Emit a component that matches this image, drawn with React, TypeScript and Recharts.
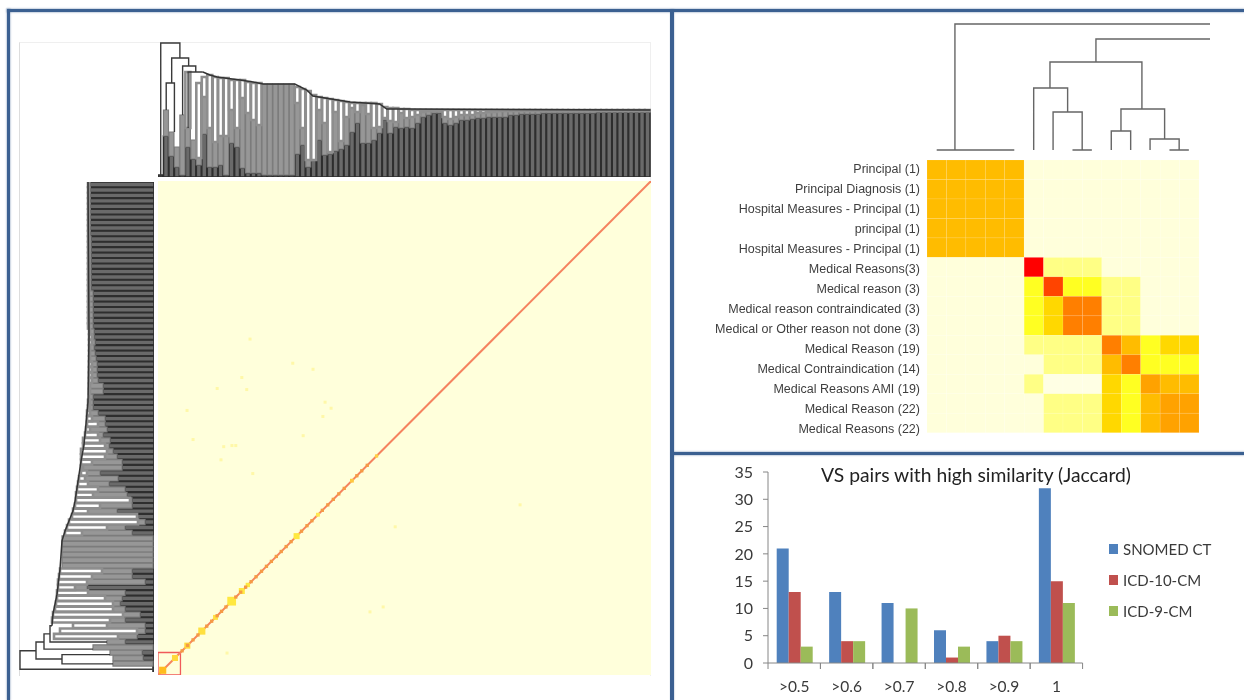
import React from "react";
import {
  BarChart, Bar, XAxis, YAxis, ComposedChart, Line, Scatter, ScatterChart,
  ReferenceArea, Legend,
} from "recharts";

/* ---------- similarity bar panel ---------- */
const thresholds = [">0.5", ">0.6", ">0.7", ">0.8", ">0.9", "1"];
const snomedCt = [21, 13, 11, 6, 4, 32];
const icd10 = [13, 4, 0, 1, 5, 15];
const icd9 = [3, 4, 10, 3, 4, 11];
const yTicks = [0, 5, 10, 15, 20, 25, 30, 35];

/* ---------- zoomed heat map ---------- */
const rowLabels = [
  "Principal (1)", "Principal Diagnosis (1)", "Hospital Measures - Principal (1)", "principal (1)",
  "Hospital Measures - Principal (1)", "Medical Reasons(3)", "Medical reason (3)",
  "Medical reason contraindicated (3)", "Medical or Other reason not done (3)", "Medical Reason (19)",
  "Medical Contraindication (14)", "Medical Reasons AMI (19)", "Medical Reason (22)", "Medical Reasons (22)",
];
const heatLevels: Record<string, string> = {
  a: "#FFFFDB", p: "#FFFFE4", b: "#FFFF85", c: "#FFFF22", d: "#FFD800", e: "#FFBC00",
  q: "#FFA200", f: "#FF7F00", g: "#FF4400", h: "#FF0000",
};
const heatRows = [
  "eeeeeaaaaaaaaa", "eeeeeaaaaaaaaa", "eeeeeaaaaaaaaa", "eeeeeaaaaaaaaa", "eeeeeaaaaaaaaa",
  "aaaaahbbbaaaaa", "aaaaacgccbbaaa", "aaaaacdffbbaaa", "aaaaacdffbbaaa",
  "aaaaabbbbfecdd", "aaaaaabbbefccc", "aaaaabpppdcqee", "aaaaaabbbdceqq", "aaaaaabbbdceqq",
];
const zoomMergeLeft = [0.94, 8.21, 5.84, 5, 6, 7, 9.5, 9, 11, 12, 0];
const zoomMergeRight = [14.09, 14.09, 10.58, 6.75, 7.5, 8, 11.75, 10, 12.5, 13, 4];
const zoomMergeHeight = [126, 111, 88, 62, 38, 0, 41, 19, 11, 0, 0];
const zoomChildLeft = [0, 88, 62, 0, 0, 0, 19, 0, 0, 0, 0];
const zoomChildRight = [126, 111, 41, 38, 0, 0, 11, 0, 0, 0, 0];

/* ---------- overview heat map ---------- */
const diagX = [0, 90];
const diagY = [0, 90];
const clusterPos = [0.86, 3.1, 5.35, 8, 10.5, 13.45, 15.3, 16.4, 25.3, 29.2, 35.4, 39.9];
const clusterSize = [1.3, 1.1, 1.1, 1.3, 0.9, 1.6, 1.1, 0.8, 1.1, 0.7, 0.7, 0.6];
const clusterColor = ["#FFBC1E", "#FFD83C", "#FFD83C", "#FFE040", "#FFE040", "#FFE840", "#FFE840", "#FFE840", "#FFE840", "#FFE850", "#FFC840", "#FFD040"];
const diagDots = [4.4, 5.4, 6.4, 7.3, 8.9, 9.8, 10.8, 11.6, 12.4, 14.2, 15.1, 16, 17, 17.9, 18.9, 19.8, 20.7, 21.6, 22.5, 23.4, 24.3, 26.2, 27.2, 28.1, 30, 31, 32, 33, 34, 36.3, 37.2, 38.2];
const speckX = [16.8, 24.6, 28.3, 15.3, 10.8, 16.2, 30.5, 31.6, 5.3, 30.1, 26.5, 6.4, 12, 13.5, 14.2, 11.5, 17.3, 41.1, 38.7, 43.3, 12.6, 66.1];
const speckY = [61.2, 56.8, 55.7, 54.2, 52.2, 52, 49.7, 48.6, 48.2, 47.1, 43.6, 42.9, 41.6, 41.8, 41.8, 39.2, 36.7, 12.4, 11.5, 27, 4, 31];
const boxRange = [0, 4.1];

/* ---------- top dendrogram ---------- */
const topDark = [2,41,21,10,2,30,18,12,43,10,10,12,2,34,30,9,4,4,4,2,2,2,2,2,2,23,32,10,17,37,22,23,26,28,32,45,54,34,34,37,44,57,44,50,49,50,
  49,54,60,62,64,64,54,52,54,57,57,58,59,59,60,60,60,60,62,62,63,63,63,63,64,64,64,64,64,64,64,64,64,64,65,65,65,65,65,65,65,65,65,65];
const topGray = [2,67,45,30,62,49,37,19,80,49,35,41,41,67,49,79,64,57,52,93,93,93,93,93,93,74,49,17,17,67,54,25,65,36,60,69,65,72,63,49,50,59,56,55,64,59,
  60,62,65,66,66,66,60,58,60,62,62,62,64,64,65,65,66,66,66,66,66,66,66,66,66,66,66,66,66,66,66,66,66,66,66,66,66,66,66,66,66,66,66,66];
const topEnv = [2,67,45,30,62,105,37,94,100,102,100,99,99,97,97,97,95,94,94,93,93,93,93,93,93,90,88,86,82,80,79,78,77,76,75,74,74,74,74,74,73,70,69,69,68,68,
  67,67,67,67,67,67,67,67,67,67,67,67,67,67,67,67,67,67,67,67,67,67,67,67,67,67,67,67,67,67,67,67,67,67,67,67,67,67,67,67,67,67,67,67];
const topMergeLeft = [0, 2, 1, 4, 5];
const topMergeRight = [3.5, 5.1, 2.5, 6.4, 7.7];
const topMergeHeight = [134, 119, 94, 111, 105];
const topChildLeft = [0, 94, 67, 62, 49];
const topChildRight = [119, 111, 45, 105, 105];
const topSpineK = [7.7, 9, 10.3, 14.5, 16.9, 18.7, 24.5, 26.7, 27.8, 34.6, 40, 41.3, 45.6, 89.5];
const topSpineH = [105, 102, 100, 97, 95, 93, 93, 87, 81, 75, 73, 68, 68, 67];

/* ---------- left dendrogram ---------- */
const leftDark = [1,1,11,12,1,29,17,9,9,29,14,29,34,32,29,67,9,22,22,1,1,1,1,1,1,22,29,9,17,37,22,22,
  27,29,45,36,54,32,32,37,41,45,44,51,47,49,49,56,61,61,61,51,51,56,57,57,57,58,59,60,59,60,60,
  61,61,61,61,61,61,61,63,63,63,63,63,63,63,63,63,63,64,64,64,64,64,64,64,64,64,64];
const leftGray = [1,41,41,44,61,47,36,17,47,44,31,41,41,49,66,79,67,62,52,92,92,92,92,92,92,72,47,16,17,66,54,24,
  61,56,66,69,67,71,62,49,47,49,54,56,64,56,62,64,64,64,65,64,64,62,62,62,62,64,64,64,62,62,64,
  65,65,65,65,65,65,65,65,65,65,65,65,65,65,65,65,65,65,65,65,65,65,65,65,65,65,65];
const leftEnv = [1,41,41,44,61,47,100,94,81,102,101,99,98,97,97,96,96,95,94,92,92,92,92,92,92,89,87,85,82,81,79,78,
  78,77,76,75,73,73,73,73,73,71,71,69,68,67,67,67,66,66,65,65,65,65,65,65,65,65,65,65,65,65,65,
  66,66,66,66,66,66,66,66,66,66,66,66,66,66,66,66,66,66,66,66,66,66,66,66,66,66,66];
const leftMergeLeft = [0, 1.9, 1, 3.7, 5];
const leftMergeRight = [3.4, 5, 2.7, 6.5, 8];
const leftMergeHeight = [134, 118, 92, 110, 104];
const leftChildLeft = [0, 92, 41, 61, 47];
const leftChildRight = [118, 110, 44, 104, 102];
const leftSpineK = [8, 10.2, 13.8, 18.4, 23.6, 25.4, 29.1, 30.9, 38.2, 41.2, 49.1, 61.3, 89.5];
const leftSpineH = [102, 101, 97, 94, 92, 89, 81, 79, 73, 70, 66, 65, 66];

/* ---------- helpers ---------- */
type P = { k: number | null; h: number | null };
function mergeSegments(l: number[], r: number[], h: number[], cl: number[], cr: number[]): P[] {
  const out: P[] = [];
  l.forEach((_, i) => {
    out.push({ k: l[i], h: cl[i] }, { k: l[i], h: h[i] }, { k: r[i], h: h[i] }, { k: r[i], h: cr[i] }, { k: null, h: null });
  });
  return out;
}
const spine = (k: number[], h: number[]): P[] => k.map((v, i) => ({ k: v, h: h[i] }));

const stackRows = (dark: number[], gray: number[], env: number[]) =>
  dark.map((d, k) => ({ k, dark: d, mid: gray[k] - d, light: env[k] - gray[k] }));

const abs = (left: number, top: number, width: number, height: number): React.CSSProperties => ({
  position: "absolute", left, top, width, height,
});

const BLUE = "#3B6091";
const UI_FONT = "Lato, 'Open Sans', sans-serif";

function stackBars() {
  return [
    <Bar key="d" dataKey="dark" stackId="s" fill="#6A6A6A" stroke="#2E2E2E" strokeWidth={1.6} isAnimationActive={false} />,
    <Bar key="m" dataKey="mid" stackId="s" fill="#979797" stroke="#7C7C7C" strokeWidth={1.2} isAnimationActive={false} />,
    <Bar key="l" dataKey="light" stackId="s" fill="#FFFFFF" stroke="#8E8E8E" strokeWidth={2.6} isAnimationActive={false} />,
  ];
}

function TopDendrogram() {
  const rows = stackRows(topDark, topGray, topEnv);
  return (
    <div style={abs(158, 42, 492.5, 135)}>
      <div style={abs(0, 0, 492.5, 135)}>
        <BarChart width={492.5} height={135} data={rows} margin={{ top: 0, right: 0, bottom: 0, left: 0 }} barCategoryGap={0}>
          <XAxis dataKey="k" hide />
          <YAxis type="number" domain={[0, 135]} hide />
          {stackBars()}
        </BarChart>
      </div>
      <div style={abs(0, 0, 492.5, 135)}>
        <ComposedChart width={492.5} height={135} margin={{ top: 0, right: 0, bottom: 0, left: 0 }}>
          <XAxis dataKey="k" type="number" domain={[-0.5, 89.5]} hide />
          <YAxis type="number" domain={[0, 135]} hide />
          <Line data={mergeSegments(topMergeLeft, topMergeRight, topMergeHeight, topChildLeft, topChildRight)} dataKey="h" stroke="#3A3A3A" strokeWidth={1.4} dot={false} isAnimationActive={false} />
          <Line data={spine(topSpineK, topSpineH)} dataKey="h" stroke="#333333" strokeWidth={1.5} dot={false} isAnimationActive={false} />
        </ComposedChart>
      </div>
    </div>
  );
}

function LeftDendrogram() {
  const rows = stackRows(leftDark, leftGray, leftEnv);
  return (
    <div style={abs(19, 182, 135, 490)}>
      <div style={abs(0, 0, 135, 490)}>
        <BarChart layout="vertical" width={135} height={490} data={rows} margin={{ top: 0, right: 0, bottom: 0, left: 0 }} barCategoryGap={0}>
          <XAxis type="number" domain={[0, 135]} reversed hide />
          <YAxis type="category" dataKey="k" reversed hide />
          {stackBars()}
        </BarChart>
      </div>
      <div style={abs(0, 0, 135, 490)}>
        <ComposedChart width={135} height={490} margin={{ top: 0, right: 0, bottom: 0, left: 0 }}>
          <XAxis dataKey="h" type="number" domain={[0, 135]} reversed hide />
          <YAxis type="number" domain={[-0.5, 89.5]} hide />
          <Line data={mergeSegments(leftMergeLeft, leftMergeRight, leftMergeHeight, leftChildLeft, leftChildRight)} dataKey="k" stroke="#3A3A3A" strokeWidth={1.4} dot={false} isAnimationActive={false} />
          <Line data={spine(leftSpineK, leftSpineH)} dataKey="k" stroke="#333333" strokeWidth={1.5} dot={false} isAnimationActive={false} />
        </ComposedChart>
      </div>
    </div>
  );
}

function OverviewHeat() {
  const specks = speckX.map((x, i) => ({ x, y: speckY[i], s: 0.55, c: "#FFF8A8" }));
  const clusters = clusterPos.map((p, i) => ({ x: p, y: p, s: clusterSize[i], c: clusterColor[i] }));
  const dots = diagDots.map((p) => ({ x: p, y: p, s: 0.6, c: "#F59A45" }));
  const unit = 493 / 90;
  const square = (props: any) => {
    const side = props.payload.s * unit;
    return <rect x={props.cx - side / 2} y={props.cy - side / 2} width={side} height={side} fill={props.payload.c} />;
  };
  return (
    <div style={abs(158, 181, 493, 494)}>
      <ComposedChart width={493} height={494} margin={{ top: 0, right: 0, bottom: 0, left: 0 }}>
        <XAxis dataKey="x" type="number" domain={[0, 90]} hide />
        <YAxis dataKey="y" type="number" domain={[0, 90]} hide />
        <ReferenceArea x1={0} x2={90} y1={0} y2={90} fill="#FFFFDB" fillOpacity={1} stroke="none" />
        <Scatter data={specks} shape={square} isAnimationActive={false} />
        <Scatter data={clusters} shape={square} isAnimationActive={false} />
        <Line data={diagX.map((x, i) => ({ x, y: diagY[i] }))} dataKey="y" stroke="#F5835F" strokeWidth={2} dot={false} isAnimationActive={false} />
        <Scatter data={dots} shape={square} isAnimationActive={false} />
        <ReferenceArea x1={boxRange[0]} x2={boxRange[1]} y1={boxRange[0]} y2={boxRange[1]} fill="none" stroke="#F05A5A" strokeWidth={1.3} ifOverflow="visible" />
      </ComposedChart>
    </div>
  );
}

function ZoomDendrogram() {
  return (
    <div style={abs(927, 20, 283, 132)}>
      <ComposedChart width={283} height={132} margin={{ top: 0, right: 0, bottom: 0, left: 0 }}>
        <XAxis dataKey="k" type="number" domain={[-0.5, 14.09]} hide />
        <YAxis type="number" domain={[-2, 130]} hide />
        <Line data={mergeSegments(zoomMergeLeft, zoomMergeRight, zoomMergeHeight, zoomChildLeft, zoomChildRight)} dataKey="h" stroke="#666666" strokeWidth={1.4} dot={false} isAnimationActive={false} />
      </ComposedChart>
    </div>
  );
}

function ZoomHeat() {
  const cells = heatRows.flatMap((row, y) => row.split("").map((code, x) => ({ x: x + 0.5, y: y + 0.5, c: heatLevels[code] })));
  const w = 272 / 14;
  const h = 272.7 / 14;
  const cell = (props: any) => (
    <rect x={props.cx - w / 2} y={props.cy - h / 2} width={w} height={h} fill={props.payload.c} stroke="#FFFFFF" strokeOpacity={0.16} strokeWidth={0.6} />
  );
  const labelTick = (p: any) => (
    <text x={p.x} y={p.y} dy={4.3} textAnchor="end" fontFamily="'Liberation Sans', Arial, sans-serif" fontSize={12.5} fill="#3E3E3E">
      {rowLabels[p.payload.value]}
    </text>
  );
  return (
    <div style={abs(700, 150, 499, 292)}>
      <ScatterChart width={499} height={292} margin={{ top: 10, right: 0, bottom: 9.3, left: 0 }}>
        <XAxis dataKey="x" type="number" domain={[0, 14]} hide />
        <YAxis yAxisId="cells" dataKey="y" type="number" domain={[0, 14]} reversed hide width={0} />
        <YAxis
          yAxisId="labels" type="number" domain={[-0.45, 13.185]} reversed width={227} allowDataOverflow
          ticks={rowLabels.map((_, i) => i)} interval={0}
          axisLine={false} tickLine={false} tickSize={0} tickMargin={7} tick={labelTick}
        />
        <Scatter yAxisId="cells" data={cells} shape={cell} isAnimationActive={false} />
      </ScatterChart>
    </div>
  );
}

function SimilarityBars() {
  const data = thresholds.map((t, i) => ({ t, snomed: snomedCt[i], icd10: icd10[i], icd9: icd9[i] }));
  const halfBand = 26.2;
  const xTick = (p: any) => (
    <g>
      <line x1={p.x - halfBand} x2={p.x - halfBand} y1={p.y - 8} y2={p.y - 2} stroke="#868686" />
      <line x1={p.x + halfBand} x2={p.x + halfBand} y1={p.y - 8} y2={p.y - 2} stroke="#868686" />
      <text x={p.x} y={p.y + 21} textAnchor="middle" fontFamily={UI_FONT} fontSize={15.5} fill="#3A3A3A">{p.payload.value}</text>
    </g>
  );
  const legendContent = (props: any) => (
    <div style={{ position: "absolute", left: 0, top: 0, width: 130 }}>
      {(props.payload || []).map((e: any) => (
        <div key={e.value} style={{ display: "flex", alignItems: "center", height: 31.3, fontFamily: UI_FONT, fontSize: 15, color: "#3A3A3A", whiteSpace: "nowrap" }}>
          <span style={{ width: 9, height: 10, background: e.color, marginRight: 5, display: "inline-block" }} />
          {e.value}
        </div>
      ))}
    </div>
  );
  return (
    <div style={abs(720, 462, 524, 238)}>
      <BarChart width={524} height={238} data={data} margin={{ top: 10, right: 161.4, bottom: 7, left: 8 }} barCategoryGap="16.6%" barGap={0}>
        <XAxis dataKey="t" height={30} axisLine={{ stroke: "#868686" }} tickLine={false} tick={xTick} interval={0} />
        <YAxis
          width={40} domain={[0, 35]} ticks={yTicks} interval={0} axisLine={{ stroke: "#868686" }}
          tickLine={{ stroke: "#868686" }} tickSize={5} tickMargin={10}
          tick={{ fontFamily: UI_FONT, fontSize: 16, fill: "#3A3A3A" }}
        />
        <Legend content={legendContent} itemSorter={null} wrapperStyle={{ left: 389, top: 71, width: 0, height: 0 }} />
        <Bar dataKey="snomed" name="SNOMED CT" fill="#4F81BD" isAnimationActive={false} />
        <Bar dataKey="icd10" name="ICD-10-CM" fill="#C0504D" isAnimationActive={false} />
        <Bar dataKey="icd9" name="ICD-9-CM" fill="#9BBB59" isAnimationActive={false} />
      </BarChart>
    </div>
  );
}

export default function App() {
  const rule = (l: number, t: number, w: number, h: number) => (
    <div style={{ ...abs(l, t, w, h), background: BLUE, boxShadow: "0 0 1.5px 0.5px rgba(59,96,145,0.45)" }} />
  );
  return (
    <div style={{ ...abs(0, 0, 1244, 700), background: "#FFFFFF", overflow: "hidden", filter: "blur(0.45px)" }}>
      <div style={{ ...abs(19, 42, 632, 634), borderLeft: "1px solid #DDDDDD", borderTop: "1px solid #EFEFEF", borderRight: "1px solid #EFEFEF", boxSizing: "border-box" }} />
      <TopDendrogram />
      <LeftDendrogram />
      <OverviewHeat />
      <ZoomDendrogram />
      <ZoomHeat />
      <SimilarityBars />
      <div style={{ position: "absolute", left: 796, top: 463, width: 360, textAlign: "center", fontFamily: UI_FONT, fontSize: 19.3, color: "#222222", lineHeight: "24px", whiteSpace: "nowrap" }}>
        VS pairs with high similarity (Jaccard)
      </div>
      {rule(7, 9, 3, 691)}
      {rule(7, 9, 1237, 3)}
      {rule(670, 9, 3.5, 691)}
      {rule(672, 452, 572, 3)}
    </div>
  );
}
